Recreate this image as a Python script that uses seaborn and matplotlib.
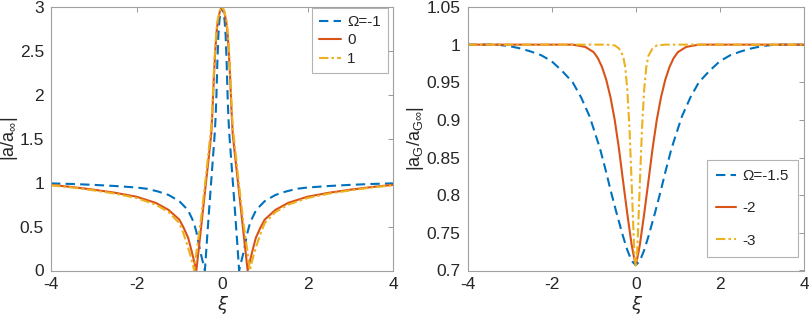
import matplotlib
matplotlib.use("Agg")
import matplotlib.pyplot as plt
import seaborn as sns
import pandas as pd

# left panel: |a/a_inf| for three Omega values
xi_m1 = [-4.0, -3.5, -3.0, -2.5, -2.0, -1.75, -1.5, -1.25, -1.0, -0.8, -0.7, -0.65, -0.6, -0.55, -0.5, -0.45,
         -0.4, -0.35, -0.3, -0.25, -0.2, -0.17, -0.15, -0.13, -0.11, -0.085, -0.06, -0.03, 0.0,
         0.03, 0.06, 0.085, 0.11, 0.13, 0.15, 0.17, 0.2, 0.25, 0.3, 0.35, 0.4,
         0.45, 0.5, 0.55, 0.6, 0.65, 0.7, 0.8, 1.0, 1.25, 1.5, 1.75, 2.0, 2.5, 3.0, 3.5, 4.0]
a_m1 = [0.992, 0.985, 0.975, 0.962, 0.945, 0.93, 0.9, 0.86, 0.79, 0.69, 0.59, 0.53, 0.44, 0.32, 0.2, 0.1,
        0.0, 0.36, 0.7, 1.03, 1.36, 1.56, 1.74, 2.0, 2.35, 2.68, 2.85, 2.95, 3.0,
        2.95, 2.85, 2.68, 2.35, 2.0, 1.74, 1.56, 1.36, 1.03, 0.7, 0.36, 0.0,
        0.1, 0.2, 0.32, 0.44, 0.53, 0.59, 0.69, 0.79, 0.86, 0.9, 0.93, 0.945, 0.962, 0.975, 0.985, 0.992]

xi_0 = [-4.0, -3.5, -3.0, -2.5, -2.0, -1.55, -1.25, -1.0, -0.9, -0.79, -0.7, -0.65, -0.6, -0.55, -0.5,
        -0.4, -0.3, -0.25, -0.22, -0.19, -0.16, -0.13, -0.1, -0.05, 0.0,
        0.05, 0.1, 0.13, 0.16, 0.19, 0.22, 0.25, 0.3, 0.4, 0.5, 0.55, 0.6,
        0.65, 0.7, 0.79, 0.9, 1.0, 1.25, 1.55, 2.0, 2.5, 3.0, 3.5, 4.0]
a_0 = [0.975, 0.95, 0.92, 0.885, 0.84, 0.77, 0.69, 0.58, 0.49, 0.37, 0.2, 0.1, 0.0, 0.22, 0.44,
       0.89, 1.33, 1.56, 1.85, 2.2, 2.48, 2.7, 2.83, 2.95, 3.0,
       2.95, 2.83, 2.7, 2.48, 2.2, 1.85, 1.56, 1.33, 0.89, 0.44, 0.22, 0.0,
       0.1, 0.2, 0.37, 0.49, 0.58, 0.69, 0.77, 0.84, 0.885, 0.92, 0.95, 0.975]

xi_p1 = [-4.0, -3.5, -3.0, -2.5, -2.0, -1.55, -1.25, -1.0, -0.9, -0.8, -0.75, -0.7, -0.65, -0.6, -0.5,
         -0.4, -0.3, -0.25, -0.22, -0.19, -0.16, -0.13, -0.1, -0.05, 0.0,
         0.05, 0.1, 0.13, 0.16, 0.19, 0.22, 0.25, 0.3, 0.4, 0.5, 0.6, 0.65,
         0.7, 0.75, 0.8, 0.9, 1.0, 1.25, 1.55, 2.0, 2.5, 3.0, 3.5, 4.0]
a_p1 = [0.97, 0.945, 0.912, 0.875, 0.825, 0.75, 0.665, 0.54, 0.42, 0.27, 0.19, 0.1, 0.0, 0.2, 0.55,
        0.97, 1.42, 1.64, 1.93, 2.27, 2.54, 2.74, 2.86, 2.96, 3.0,
        2.96, 2.86, 2.74, 2.54, 2.27, 1.93, 1.64, 1.42, 0.97, 0.55, 0.2, 0.0,
        0.1, 0.19, 0.27, 0.42, 0.54, 0.665, 0.75, 0.825, 0.875, 0.912, 0.945, 0.97]

# right panel: |a_G/a_Ginf|
xi_g15 = [-4.0, -3.3, -3.0, -2.75, -2.5, -2.25, -2.0, -1.75, -1.5, -1.3, -1.1, -1.0, -0.85, -0.7, -0.6,
          -0.45, -0.3, -0.2, -0.1, 0.0, 0.1, 0.2, 0.3, 0.45, 0.6, 0.7, 0.85, 1.0, 1.1, 1.3, 1.5,
          1.75, 2.0, 2.25, 2.5, 2.75, 3.0, 3.3, 4.0]
g_15 = [1.0, 1.0, 0.998, 0.995, 0.991, 0.986, 0.978, 0.965, 0.95, 0.93, 0.905, 0.888, 0.862, 0.83, 0.807,
        0.775, 0.745, 0.727, 0.713, 0.707, 0.713, 0.727, 0.745, 0.775, 0.807, 0.83, 0.862, 0.888, 0.905, 0.93, 0.95,
        0.965, 0.978, 0.986, 0.991, 0.995, 0.998, 1.0, 1.0]

xi_g2 = [-4.0, -1.5, -1.2, -1.0, -0.9, -0.8, -0.7, -0.6, -0.5, -0.4, -0.3, -0.2, -0.15, -0.1, -0.05, 0.0,
         0.05, 0.1, 0.15, 0.2, 0.3, 0.4, 0.5, 0.6, 0.7, 0.8, 0.9, 1.0, 1.2, 1.5, 4.0]
g_2 = [1.0, 1.0, 0.997, 0.99, 0.982, 0.97, 0.953, 0.93, 0.9, 0.862, 0.818, 0.775, 0.755, 0.735, 0.72, 0.707,
       0.72, 0.735, 0.755, 0.775, 0.818, 0.862, 0.9, 0.93, 0.953, 0.97, 0.982, 0.99, 0.997, 1.0, 1.0]

xi_g3 = [-4.0, -0.7, -0.5, -0.4, -0.3, -0.25, -0.2, -0.15, -0.1, -0.06, -0.03, 0.0,
         0.03, 0.06, 0.1, 0.15, 0.2, 0.25, 0.3, 0.4, 0.5, 0.7, 4.0]
g_3 = [1.0, 1.0, 0.999, 0.995, 0.985, 0.97, 0.94, 0.89, 0.82, 0.76, 0.72, 0.707,
       0.72, 0.76, 0.82, 0.89, 0.94, 0.97, 0.985, 0.995, 0.999, 1.0, 1.0]

left_labels = ["Ω=-1", "0", "1"]
right_labels = ["Ω=-1.5", "-2", "-3"]
left_yticks = [0, 0.5, 1, 1.5, 2, 2.5, 3]
left_yticklabels = ["0", "0.5", "1", "1.5", "2", "2.5", "3"]
right_yticks = [0.7, 0.75, 0.8, 0.85, 0.9, 0.95, 1.0, 1.05]
right_yticklabels = ["0.7", "0.75", "0.8", "0.85", "0.9", "0.95", "1", "1.05"]
xticks = [-4, -2, 0, 2, 4]
xticklabels = ["-4", "-2", "0", "2", "4"]

sns.set_style("white")
plt.rcParams["font.family"] = ["Liberation Sans", "DejaVu Sans"]
plt.rcParams["mathtext.fontset"] = "custom"
plt.rcParams["mathtext.rm"] = "Liberation Sans"
plt.rcParams["mathtext.it"] = "Liberation Sans:italic"

BLUE, RED, YELLOW = "#0072BD", "#D95319", "#EDB120"
styles = [dict(color=BLUE, dashes=(4.5, 2.5)),
          dict(color=RED),
          dict(color=YELLOW, dashes=(4.5, 1.5, 1.2, 1.5))]

W, H = 809, 316
fig = plt.figure(figsize=(W / 100, H / 100), dpi=100)
ax1 = fig.add_axes([51 / W, 1 - 270.5 / H, 342 / W, 263.5 / H])
ax2 = fig.add_axes([467.5 / W, 1 - 270.5 / H, 336.5 / W, 263.5 / H])

left_sets = [(xi_m1, a_m1), (xi_0, a_0), (xi_p1, a_p1)]
for (xs, ys), lab, st in zip(left_sets, left_labels, styles):
    df = pd.DataFrame({"xi": xs, "val": ys})
    sns.lineplot(data=df, x="xi", y="val", ax=ax1, label=lab, estimator=None, sort=False,
                 linewidth=1.5, **st)

right_sets = [(xi_g15, g_15), (xi_g2, g_2), (xi_g3, g_3)]
for (xs, ys), lab, st in zip(right_sets, right_labels, styles):
    df = pd.DataFrame({"xi": xs, "val": ys})
    sns.lineplot(data=df, x="xi", y="val", ax=ax2, label=lab, estimator=None, sort=False,
                 linewidth=1.5, **st)

ax1.set_xlim(-4, 4)
ax1.set_ylim(0, 3)
ax1.set_yticks(left_yticks, left_yticklabels)
ax2.set_xlim(-4, 4)
ax2.set_ylim(0.7, 1.05)
ax2.set_yticks(right_yticks, right_yticklabels)

ax1.set_ylabel(r"$\mathrm{|a/a_{\infty}|}$", fontsize=13)
ax2.set_ylabel(r"$\mathrm{|a_G/a_{G\infty}|}$", fontsize=13)
ax1.yaxis.set_label_coords(-31 / 342, 0.5)
ax2.yaxis.set_label_coords(-42 / 336.5, 0.5)

for ax in (ax1, ax2):
    ax.set_xticks(xticks, xticklabels)
    ax.set_xlabel("ξ", fontsize=13, family="DejaVu Sans", style="italic")
    ax.xaxis.set_label_coords(0.5, -26 / 263.5)
    ax.tick_params(direction="in", length=3.5, width=0.6, color="#888888",
                   labelsize=12.5, top=True, right=True, pad=5)
    for sp in ax.spines.values():
        sp.set_color("#a0a0a0")
        sp.set_linewidth(0.8)

leg1 = ax1.legend(loc="upper right", bbox_to_anchor=((388 - 51) / 342, 1 - 1 / 263.5),
                  borderaxespad=0, fontsize=11, frameon=True, fancybox=False,
                  handlelength=1.45, handletextpad=0.4, labelspacing=0.3, borderpad=0.45)
leg2 = ax2.legend(loc="lower right", bbox_to_anchor=((798 - 467.5) / 336.5, 13.5 / 263.5),
                  borderaxespad=0, fontsize=11, frameon=True, fancybox=False,
                  handlelength=1.3, handletextpad=0.4, labelspacing=1.2, borderpad=0.6)
for leg in (leg1, leg2):
    leg.get_frame().set_edgecolor("#a0a0a0")
    leg.get_frame().set_linewidth(0.8)

fig.savefig("out.png", dpi=100)
